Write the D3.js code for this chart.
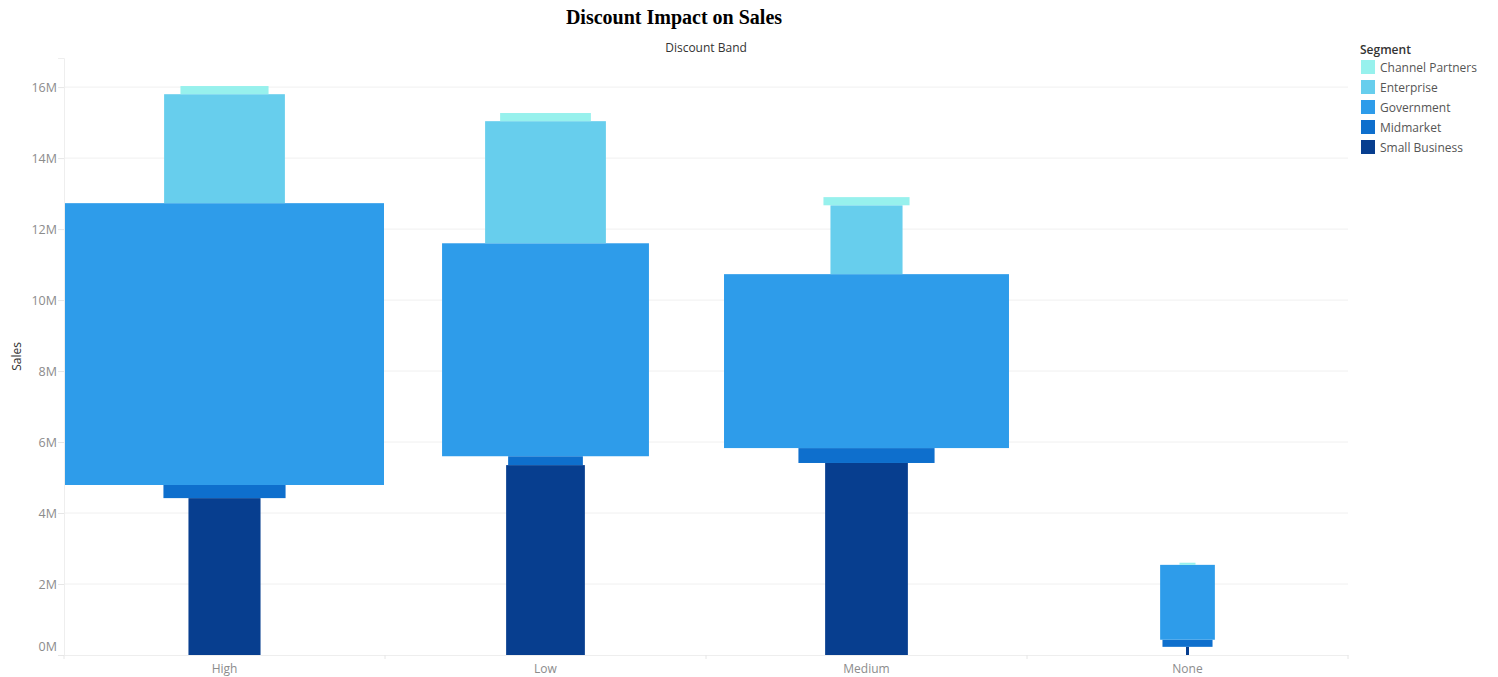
<!DOCTYPE html>
<html>
<head>
<meta charset="utf-8">
<script src="https://cdn.jsdelivr.net/npm/d3@7"></script>
<style>
  html, body { margin: 0; padding: 0; background: #fff; }
  svg { display: block; }
</style>
</head>
<body>
<svg id="chart" width="1498" height="677"></svg>
<script>
// ---- data ----
const discountBands = ["High", "Low", "Medium", "None"];
const segments = ["Small Business", "Midmarket", "Government", "Enterprise", "Channel Partners"];
const legendOrder = ["Channel Partners", "Enterprise", "Government", "Midmarket", "Small Business"];
const segmentColors = ["#073e8f", "#0e6fcd", "#2e9cea", "#67ceed", "#97f1ed"];
// Sales in millions, per discount band, order of `segments`
const salesHigh   = [4.42, 0.37, 7.94, 3.07, 0.23];
const salesLow    = [5.35, 0.25, 6.00, 3.44, 0.23];
const salesMedium = [5.41, 0.42, 4.90, 1.94, 0.23];
const salesNone   = [0.23, 0.20, 2.11, 0.00, 0.06];
// Size measure (units sold, thousands) encoded as bar width
const unitsHigh   = [108, 183, 478, 181, 132];
const unitsLow    = [118, 112, 310, 181, 136];
const unitsMedium = [124, 204, 427, 108, 129];
const unitsNone   = [4.5, 75, 82, 0, 24];
const yTicks = [0, 2, 4, 6, 8, 10, 12, 14, 16];

const salesByBand = [salesHigh, salesLow, salesMedium, salesNone];
const unitsByBand = [unitsHigh, unitsLow, unitsMedium, unitsNone];

// ---- layout ----
const svg = d3.select("#chart");
const margin = { left: 64, right: 150, top: 58, bottom: 22 };
const W = 1498, H = 677;
const x = d3.scaleBand().domain(discountBands).range([margin.left, W - margin.right]).padding(0);
const y = d3.scaleLinear().domain([0, 16.82]).range([H - margin.bottom, margin.top]);
const color = d3.scaleOrdinal().domain(segments).range(segmentColors);
const allUnits = unitsByBand.flat();
const w = d3.scaleLinear().domain([0, d3.max(allUnits)]).range([0, x.bandwidth() - 2]);

const font = "'Open Sans', 'Noto Sans', sans-serif";

// gridlines
svg.append("g").selectAll("line").data(yTicks.filter(d => d > 0)).join("line")
  .attr("x1", margin.left).attr("x2", W - margin.right)
  .attr("y1", d => y(d)).attr("y2", d => y(d))
  .attr("stroke", "#f0f0f0").attr("stroke-width", 1);

// y axis
const yAxis = svg.append("g").attr("transform", `translate(${margin.left},0)`)
  .call(d3.axisLeft(y).tickValues(yTicks).tickFormat(d => d + "M").tickSize(6).tickPadding(1));
yAxis.select(".domain").attr("stroke", "#eeeeee");
yAxis.selectAll(".tick line").attr("stroke", "#e6e6e6");
yAxis.selectAll(".tick text").attr("fill", "#8c8c8c").style("font-family", font).style("font-size", "12.5px");
yAxis.selectAll(".tick").filter(d => d === 0).select("text").attr("dy", "-0.35em");

// bars
const rows = [];
discountBands.forEach((band, bi) => {
  let acc = 0;
  segments.forEach((seg, si) => {
    const v = salesByBand[bi][si];
    rows.push({ band, seg, y0: acc, y1: acc + v, u: unitsByBand[bi][si] });
    acc += v;
  });
});
svg.append("g").selectAll("rect").data(rows.filter(d => d.y1 > d.y0 && d.u > 0)).join("rect")
  .attr("x", d => x(d.band) + x.bandwidth() / 2 - w(d.u) / 2)
  .attr("width", d => w(d.u))
  .attr("y", d => y(d.y1))
  .attr("height", d => y(d.y0) - y(d.y1))
  .attr("fill", d => color(d.seg));

// x axis
const xAxis = svg.append("g").attr("transform", `translate(0,${y(0)})`)
  .call(d3.axisBottom(x).tickSize(0).tickPadding(9));
xAxis.select(".domain").attr("stroke", "#eeeeee");
xAxis.selectAll(".tick text").attr("fill", "#8c8c8c").style("font-family", font).style("font-size", "12px");
// band separator ticks
svg.append("g").selectAll("line")
  .data(discountBands.map(b => x(b)).concat([x(discountBands[discountBands.length - 1]) + x.bandwidth()]))
  .join("line")
  .attr("x1", d => d).attr("x2", d => d)
  .attr("y1", y(0)).attr("y2", y(0) + 4)
  .attr("stroke", "#e6e6e6");

// titles
svg.append("text").attr("x", 674).attr("y", 24).attr("text-anchor", "middle")
  .style("font-family", "'Liberation Serif', 'Times New Roman', serif").style("font-weight", "bold").style("font-size", "20px")
  .attr("fill", "#000").text("Discount Impact on Sales");
svg.append("text").attr("x", (margin.left + W - margin.right) / 2).attr("y", 52).attr("text-anchor", "middle")
  .style("font-family", font).style("font-size", "12px").attr("fill", "#333").text("Discount Band");
svg.append("text").attr("transform", `translate(21,${(y.range()[0] + y.range()[1]) / 2}) rotate(-90)`)
  .attr("text-anchor", "middle")
  .style("font-family", font).style("font-size", "12px").attr("fill", "#333").text("Sales");

// legend
const lg = svg.append("g").attr("transform", "translate(1360,0)");
lg.append("text").attr("x", 0).attr("y", 54)
  .style("font-family", font).style("font-size", "12px").style("font-weight", "600").attr("fill", "#333").text("Segment");
const li = lg.selectAll("g.item").data(legendOrder).join("g").attr("class", "item")
  .attr("transform", (d, i) => `translate(0,${60 + i * 20})`);
li.append("rect").attr("x", 1).attr("y", 0).attr("width", 14).attr("height", 14).attr("fill", d => color(d));
li.append("text").attr("x", 20).attr("y", 11.5)
  .style("font-family", font).style("font-size", "12px").attr("fill", "#555").text(d => d);
</script>
</body>
</html>
